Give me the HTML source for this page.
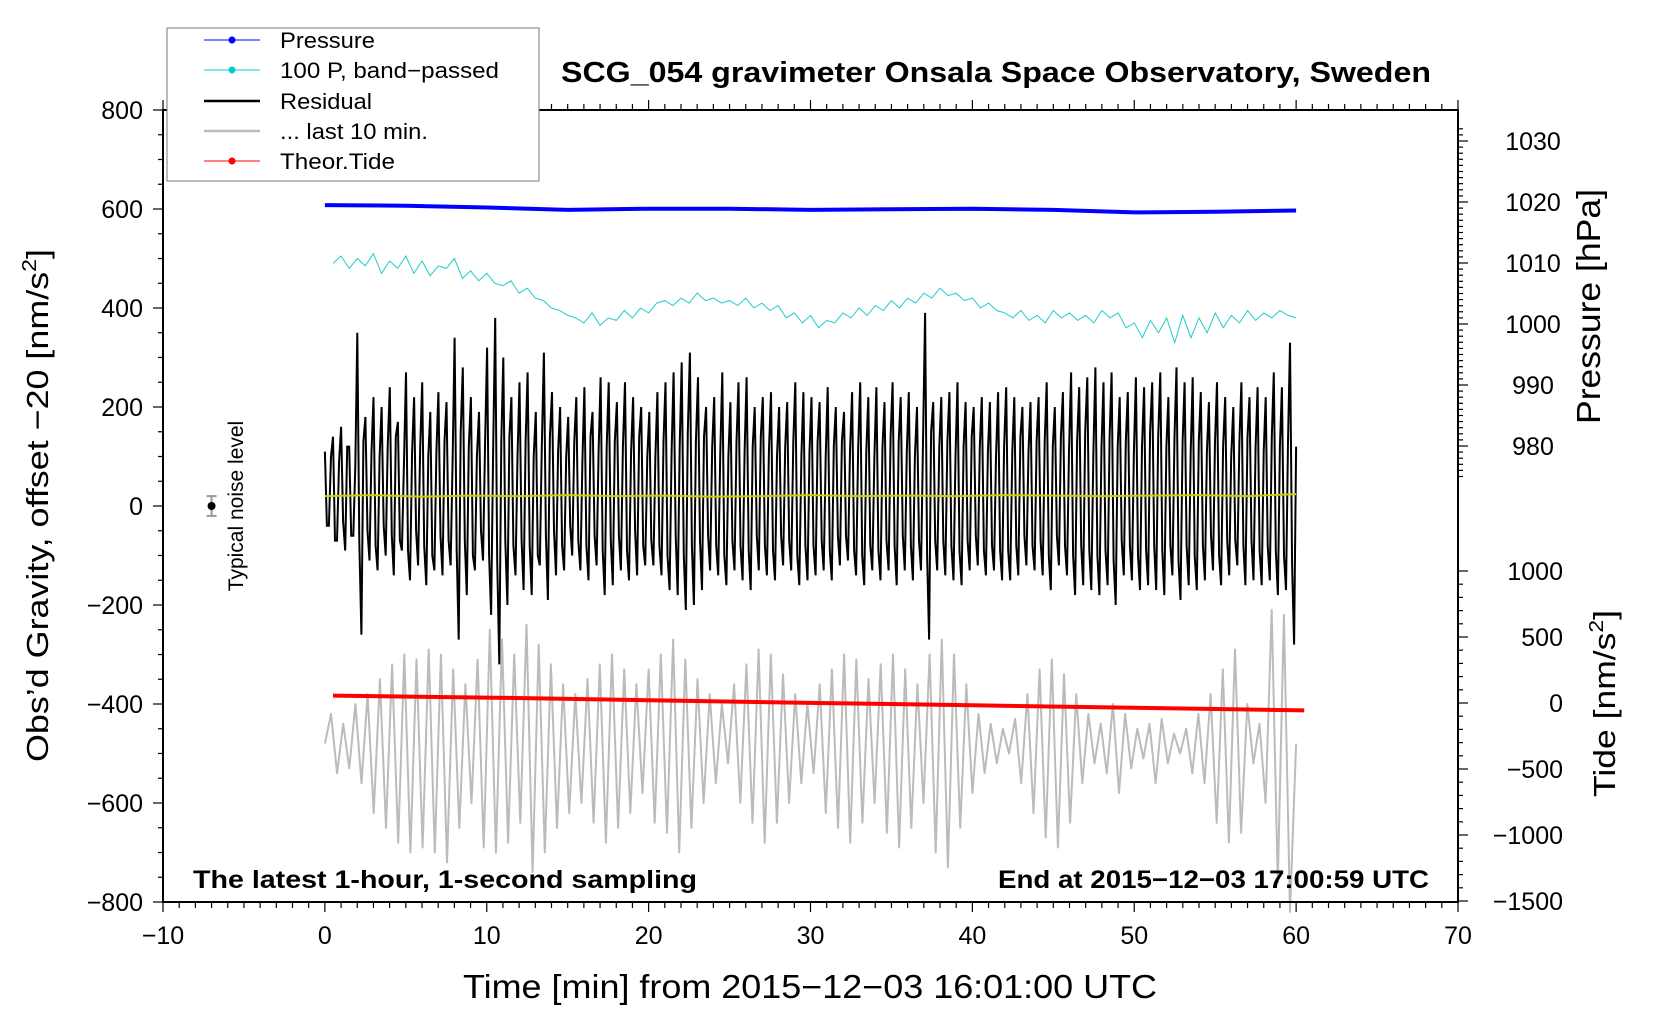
<!DOCTYPE html>
<html><head><meta charset="utf-8"><style>
html,body{margin:0;padding:0;background:#fff;}
svg{display:block;font-family:"Liberation Sans",sans-serif;}
</style></head><body>
<svg id="chart" width="1660" height="1020" viewBox="0 0 1660 1020" xmlns="http://www.w3.org/2000/svg">
<rect x="0" y="0" width="1660" height="1020" fill="#fff"/>
<g id="plot"></g>
<g id="axes"></g>
<text x="561" y="82" textLength="870" lengthAdjust="spacingAndGlyphs" font-size="29" font-weight="bold">SCG_054 gravimeter Onsala Space Observatory, Sweden</text>
<text x="463" y="998" textLength="694" lengthAdjust="spacingAndGlyphs" font-size="33">Time [min] from 2015−12−03 16:01:00 UTC</text>
<text transform="translate(48,506) rotate(-90)" x="-256" textLength="513" lengthAdjust="spacingAndGlyphs" font-size="31">Obs’d Gravity, offset −20 [nm/s<tspan font-size="20" dy="-12">2</tspan><tspan dy="12">]</tspan></text>
<text transform="translate(1600,307) rotate(-90)" x="-117" textLength="235" lengthAdjust="spacingAndGlyphs" font-size="33">Pressure [hPa]</text>
<text transform="translate(1615,703) rotate(-90)" x="-94" textLength="187" lengthAdjust="spacingAndGlyphs" font-size="31">Tide [nm/s<tspan font-size="20" dy="-12">2</tspan><tspan dy="12">]</tspan></text>
<text x="193" y="888" textLength="504" lengthAdjust="spacingAndGlyphs" font-size="25" font-weight="bold">The latest 1-hour, 1-second sampling</text>
<text x="998" y="888" textLength="431" lengthAdjust="spacingAndGlyphs" font-size="25" font-weight="bold">End at 2015−12−03 17:00:59 UTC</text>
<text transform="translate(243,506) rotate(-90)" text-anchor="middle" font-size="21">Typical noise level</text>
<g>
<rect x="167" y="28" width="372" height="153" fill="#fff" stroke="#777" stroke-width="1"/>
<line x1="204" y1="40" x2="260" y2="40" stroke="#00f" stroke-width="1"/><circle cx="232" cy="40" r="3.5" fill="#00f"/>
<text x="280" y="48" textLength="95" lengthAdjust="spacingAndGlyphs" font-size="22">Pressure</text>
<line x1="204" y1="70" x2="260" y2="70" stroke="#00cccc" stroke-width="1"/><circle cx="232" cy="70" r="3.5" fill="#00cccc"/>
<text x="280" y="78" textLength="219" lengthAdjust="spacingAndGlyphs" font-size="22">100 P, band−passed</text>
<line x1="204" y1="101" x2="260" y2="101" stroke="#000" stroke-width="2.5"/>
<text x="280" y="109" textLength="92" lengthAdjust="spacingAndGlyphs" font-size="22">Residual</text>
<line x1="204" y1="131" x2="260" y2="131" stroke="#bbb" stroke-width="2.5"/>
<text x="280" y="139" textLength="148" lengthAdjust="spacingAndGlyphs" font-size="22">... last 10 min.</text>
<line x1="204" y1="161" x2="260" y2="161" stroke="#f00" stroke-width="1"/><circle cx="232" cy="161" r="3.5" fill="#f00"/>
<text x="280" y="169" textLength="115" lengthAdjust="spacingAndGlyphs" font-size="22">Theor.Tide</text>
</g>
</svg>
<script>
const xTicks=[-10,0,10,20,30,40,50,60,70];
const yTicks=[800,600,400,200,0,-200,-400,-600,-800];
const pTicks=[1030,1020,1010,1000,990,980];
const tTicks=[1000,500,0,-500,-1000,-1500];
const residual=[90,-60,120,-90,140,-110,100,-80,
330,-280,160,-130,200,-150,180,-120,
220,-160,150,-110,250,-170,200,-140,
230,-180,170,-150,210,-160,190,-140,
320,-290,260,-200,200,-150,170,-130,
300,-240,360,-340,280,-220,200,-160,
230,-190,250,-200,170,-140,290,-210,
210,-160,180,-150,160,-120,200,-150,
220,-170,170,-140,240,-200,230,-180,
190,-150,230,-170,200,-160,180,-140,
170,-140,210,-160,230,-190,250,-200,
270,-230,290,-220,240,-190,180,-150,
200,-160,250,-180,190,-150,230,-170,
240,-190,180,-150,200,-160,210,-170,
180,-140,190,-150,230,-180,210,-170,
200,-160,190,-150,220,-170,180,-140,
170,-130,210,-160,230,-180,200,-150,
220,-170,190,-150,230,-180,200,-150,
210,-170,180,-150,370,-290,190,-150,
200,-160,210,-170,230,-180,190,-150,
180,-140,200,-160,190,-150,210,-170,
220,-170,200,-160,180,-140,190,-150,
200,-160,230,-190,180,-140,210,-160,
250,-200,220,-180,240,-190,260,-200,
230,-180,250,-220,200,-160,210,-170,
240,-190,220,-180,230,-190,250,-200,
200,-160,260,-210,230,-180,240,-190,
210,-170,190,-150,230,-180,200,-160,
180,-140,230,-180,200,-170,220,-180,
200,-170,250,-200,220,-190,310,-300];
const residualCore=[-60,80,-90,70,-50,100,-80,60,
-90,110,-70,90,-100,80,-60,100,
-80,120,-90,70,-110,90,-70,100,
-100,80,-120,90,-80,110,-90,70,
-110,130,-90,100,-120,80,-70,110,
-120,100,-130,110,-90,120,-100,80,
-90,110,-100,80,-120,100,-80,120,
-70,90,-100,80,-60,110,-90,70,
-100,120,-80,90,-110,100,-90,110,
-80,100,-110,90,-70,120,-100,80,
-90,80,-100,110,-120,90,-80,100,
-120,130,-100,110,-90,120,-80,100,
-100,90,-120,80,-90,110,-100,90,
-110,100,-80,120,-100,90,-110,80,
-80,100,-90,110,-120,80,-100,90,
-100,110,-90,80,-110,100,-80,110,
-80,90,-110,100,-120,90,-100,80,
-110,100,-90,120,-100,110,-80,90,
-100,80,-90,110,-120,130,-90,100,
-90,110,-100,80,-110,100,-90,120,
-80,100,-110,90,-100,80,-110,100,
-110,90,-100,120,-80,90,-100,110,
-90,110,-120,100,-80,120,-100,90,
-120,110,-100,130,-110,90,-120,100,
-110,120,-130,100,-90,110,-100,90,
-120,100,-110,130,-100,120,-110,100,
-100,120,-130,110,-100,90,-120,110,
-100,90,-80,110,-120,100,-90,80,
-90,110,-100,120,-90,100,-110,90,
-100,120,-110,100,-120,110,-140,100];
const last10=[-480,-420,-540,-440,-530,-400,-560,-380,-620,-350,-650,-320,-680,-300,-700,-310,
-690,-290,-700,-300,-720,-330,-650,-360,-600,-310,-690,-250,-700,-270,-680,-300,
-640,-240,-740,-280,-700,-320,-650,-360,-620,-380,-600,-350,-640,-320,-680,-300,
-650,-330,-620,-360,-580,-330,-640,-300,-660,-270,-700,-310,-650,-350,-600,-380,
-560,-400,-520,-360,-600,-320,-640,-290,-680,-300,-640,-340,-600,-380,-560,-400,
-540,-360,-620,-330,-650,-300,-680,-310,-640,-350,-600,-320,-660,-300,-690,-330,
-650,-360,-600,-300,-700,-270,-730,-300,-650,-360,-580,-420,-540,-440,-520,-450,
-500,-430,-560,-380,-620,-330,-670,-310,-690,-340,-640,-380,-560,-420,-520,-440,
-540,-400,-580,-420,-530,-450,-510,-440,-560,-430,-520,-460,-500,-450,-540,-420,
-560,-380,-640,-330,-680,-290,-660,-400,-520,-440,-600,-210,-760,-220,-820,-480];
const bandpassed=[490,505,480,500,485,510,470,495,480,505,470,495,465,485,480,500,460,475,455,470,450,
445,455,430,440,420,415,400,395,385,380,370,390,365,380,375,395,380,400,390,410,415,
405,420,410,430,415,420,410,415,405,420,400,410,395,405,380,390,370,385,360,375,370,
390,380,400,385,405,395,415,400,420,410,430,420,440,425,430,415,420,400,410,395,
390,380,395,375,385,370,395,380,390,375,385,370,395,380,390,360,370,340,375,350,380,
330,385,340,380,350,390,360,385,370,395,375,390,380,395,385,380];
const pressure=[1019.5,1019.4,1019.1,1018.7,1018.9,1018.9,1018.7,1018.8,1018.9,1018.7,1018.3,1018.4,1018.6];
const tide=[56,40,20,0,-18,-37,-56];
const offsetLine=[20,22,19,21,20,22,20,21,19,20,22,20,21,20,22,21,20,21,22,20,24];

const L=163,R=1458,T=110,B=902;
const X=v=>L+(v+10)*(R-L)/80;
const Y=v=>T+(800-v)*(B-T)/1600;
const P=v=>202+(1020-v)*6.1;
const TD=v=>703-v*0.132;
const NS="http://www.w3.org/2000/svg";
const plot=document.getElementById('plot'), axes=document.getElementById('axes');
function mk(tag,attrs,parent){const e=document.createElementNS(NS,tag);for(const k in attrs)e.setAttribute(k,attrs[k]);parent.appendChild(e);return e;}
function series(arr,x0,x1,yf){return arr.map((v,i)=>X(x0+i*(x1-x0)/(arr.length-1)).toFixed(1)+','+yf(v).toFixed(1)).join(' ');}

const resMerged=[];
for(let i=0;i<residual.length;i++){resMerged.push(residual[i]);if(i<residualCore.length)resMerged.push(residualCore[i]);}

let e;
e=mk('polyline',{points:series(last10,0,60,Y),fill:'none',stroke:'#bbb','stroke-width':2,'stroke-linejoin':'round'},plot);


e=mk('polyline',{points:series(resMerged,0,60,v=>Y(v+20)),fill:'none',stroke:'#000','stroke-width':2},plot);


e=mk('polyline',{points:series(offsetLine,0,60,Y),fill:'none',stroke:'#cccc00','stroke-width':2},plot);


e=mk('polyline',{points:series(bandpassed,0.5,60,Y),fill:'none',stroke:'#22cccc','stroke-width':1},plot);


e=mk('polyline',{points:series(pressure,0,60,P),fill:'none',stroke:'#00f','stroke-width':4},plot);


e=mk('polyline',{points:series(tide,0.5,60.5,TD),fill:'none',stroke:'#f00','stroke-width':4},plot);


e=mk('g',{},plot);


mk('line',{x1:X(-7),x2:X(-7),y1:Y(20),y2:Y(-20),stroke:'#999','stroke-width':2},e);
mk('line',{x1:X(-7)-5,x2:X(-7)+5,y1:Y(20),y2:Y(20),stroke:'#999','stroke-width':2},e);
mk('line',{x1:X(-7)-5,x2:X(-7)+5,y1:Y(-20),y2:Y(-20),stroke:'#999','stroke-width':2},e);
mk('circle',{cx:X(-7),cy:Y(0),r:4,fill:'#000'},e);

e=mk('rect',{x:L,y:T,width:R-L,height:B-T,fill:'none',stroke:'#000','stroke-width':2},axes);


for(let m=-10;m<=70;m++){const maj=m%10===0;
mk('line',{x1:X(m),x2:X(m),y1:B,y2:B+(maj?10:6),stroke:'#000','stroke-width':1.2},axes);
mk('line',{x1:X(m),x2:X(m),y1:T,y2:T-(maj?10:6),stroke:'#000','stroke-width':1.2},axes);}
xTicks.forEach(v=>{const t=mk('text',{x:X(v),y:B+42,'text-anchor':'middle','font-size':25},axes);t.textContent=String(v).replace('-','−');

});
for(let v=-800;v<=800;v+=50){const maj=v%200===0;mk('line',{x1:L,x2:L-(maj?10:5),y1:Y(v),y2:Y(v),stroke:'#000','stroke-width':1.2},axes);}
yTicks.forEach(v=>{const t=mk('text',{x:L-20,y:Y(v)+9,'text-anchor':'end','font-size':25},axes);t.textContent=String(v).replace('-','−');

});
for(let v=1032;v>=975;v--){const maj=v%10===0;mk('line',{x1:R,x2:R+(maj?10:5),y1:P(v),y2:P(v),stroke:'#000','stroke-width':1.2},axes);}
pTicks.forEach(v=>{const t=mk('text',{x:R+75,y:P(v)+9,'text-anchor':'middle','font-size':25},axes);t.textContent=v;

});
for(let v=1000;v>=-1500;v-=100){const maj=v%500===0;mk('line',{x1:R,x2:R+(maj?10:5),y1:TD(v),y2:TD(v),stroke:'#000','stroke-width':1.2},axes);}
tTicks.forEach(v=>{const t=mk('text',{x:R+105,y:TD(v)+9,'text-anchor':'end','font-size':25},axes);t.textContent=String(v).replace('-','−');

});
</script>
</body></html>
